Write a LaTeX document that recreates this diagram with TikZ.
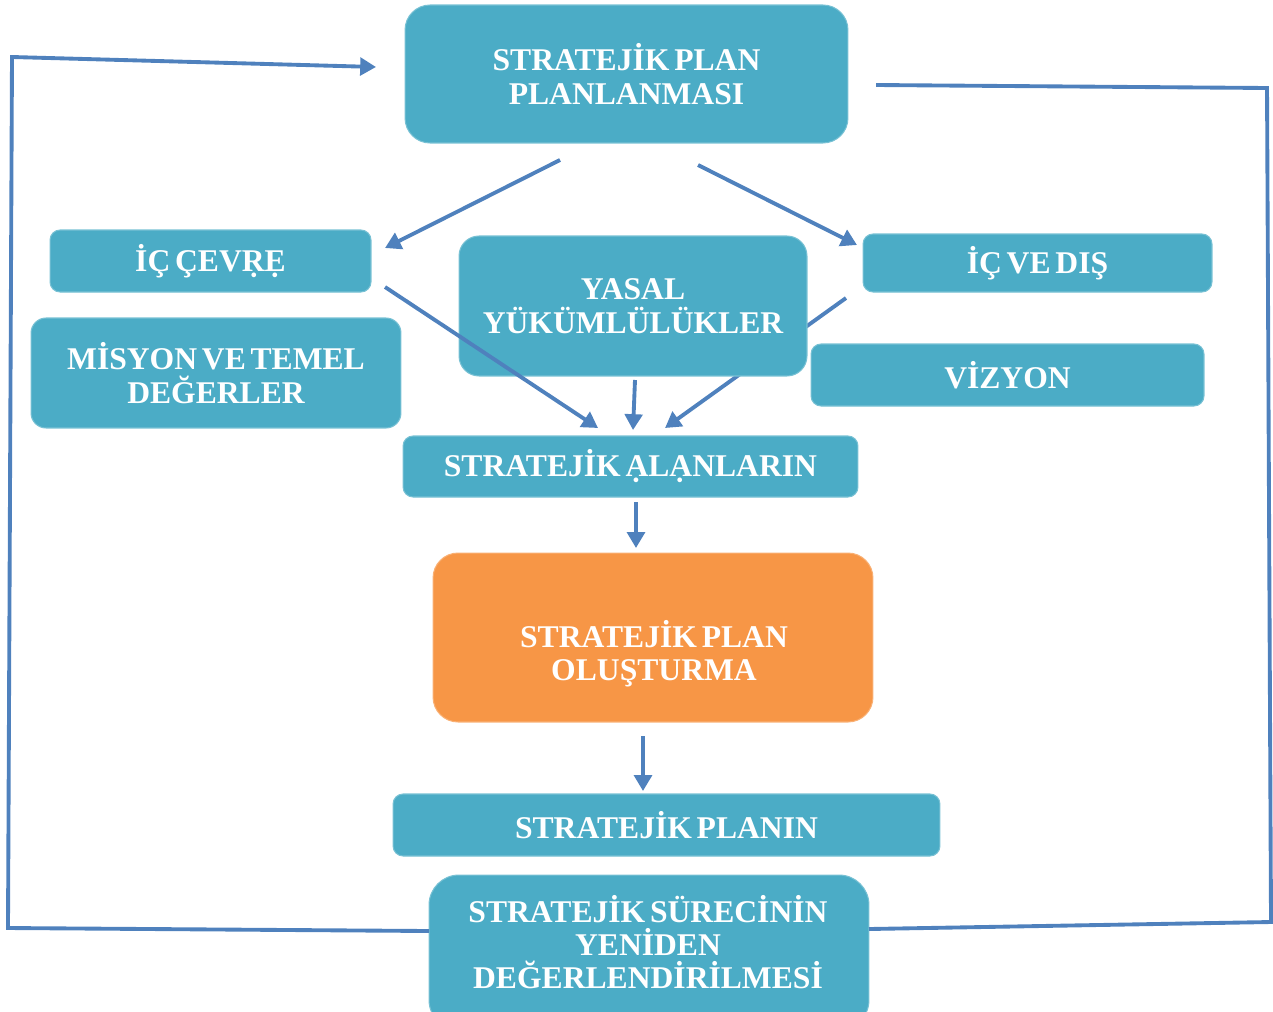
\documentclass[tikz,border=0pt]{standalone}
\usepackage{fontspec}
\setmainfont[WordSpace=0.6]{Liberation Serif}
\usetikzlibrary{arrows.meta}
\definecolor{kutumavi}{HTML}{4BACC6}
\definecolor{turuncu}{HTML}{F79646}
\definecolor{okmavi}{HTML}{4F81BD}
\begin{document}
\begin{tikzpicture}[x=0.02cm,y=-0.02cm,
    kutu/.style={fill=kutumavi,draw=kutumavi!75!white,line width=0.6pt,rounded corners=0.2cm,
      text=white,font=\fontsize{18}{19}\selectfont\bfseries,align=center,inner sep=0pt},
    yazi/.style={text=white,font=\fontsize{18}{19}\selectfont\bfseries,align=center,inner sep=0pt},
    okcizgi/.style={draw=okmavi,line width=2.2pt,-{Triangle[length=9pt,width=10pt]}},
    cizgi/.style={draw=okmavi,line width=2.2pt}]
  \useasboundingbox (0,0) rectangle (1273,1011);
  % uc noktalar
  \coordinate (d1) at (846,298);
  \coordinate (d2) at (665,428);
  \draw[okcizgi] (d1) -- (d2);
  % kutular
  \node[kutu,rounded corners=0.5cm,minimum width=8.86cm,minimum height=2.76cm] (plan) at (626.5,74) {STRATEJİK PLAN\\PLANLANMASI};
  \node[kutu,minimum width=6.42cm,minimum height=1.24cm] (ic) at (210.5,261) {İÇ ÇEV\d{R}\d{E}};
  \node[kutu,rounded corners=0.4cm,minimum width=6.96cm,minimum height=2.8cm] (yasal) at (633,306) {YASAL\\YÜKÜMLÜLÜKLER};
  \node[kutu,minimum width=6.98cm,minimum height=1.16cm] (icdis) at (1037.5,263) {İÇ VE DIŞ};
  \node[kutu,rounded corners=0.3cm,minimum width=7.4cm,minimum height=2.2cm] (misyon) at (216,373) {MİSYON VE TEMEL\\DEĞERLER};
  \node[kutu,minimum width=7.86cm,minimum height=1.24cm] (vizyon) at (1007.5,375) {VİZYON};
  \node[kutu,minimum width=9.1cm,minimum height=1.22cm] (alan) at (630.5,466.5) {STRATEJİK \d{A}L\d{A}NLARIN};
  \node[kutu,fill=turuncu,draw=turuncu!75!white,rounded corners=0.5cm,minimum width=8.8cm,minimum height=3.38cm] (olus) at (653,637.5) {};
  \node[yazi] (olusyazi) at (654,654) {STRATEJİK PLAN\\OLUŞTURMA};
  \node[kutu,minimum width=10.94cm,minimum height=1.24cm] (planin) at (666.5,825) {STRATEJİK PLANIN};
  \node[kutu,rounded corners=0.6cm,minimum width=8.8cm,minimum height=3.1cm] (surec) at (649,952.5) {};
  \node[yazi] (surecyazi) at (648,942) {STRATEJİK SÜRECİNİN\\YENİDEN\\DEĞERLENDİRİLMESİ};
  % oklar
  \coordinate (a1) at (560,160);  \coordinate (a2) at (385,248);
  \coordinate (b1) at (698,165);  \coordinate (b2) at (857,245);
  \coordinate (c1) at (385,287);  \coordinate (c2) at (598,428);
  \coordinate (e1) at (635,380);  \coordinate (e2) at (633,430);
  \coordinate (f1) at (636,502);  \coordinate (f2) at (636,548);
  \coordinate (g1) at (643,736);  \coordinate (g2) at (643,791);
  \draw[okcizgi] (a1) -- (a2);
  \draw[okcizgi] (b1) -- (b2);
  \draw[okcizgi] (c1) -- (c2);
  \draw[okcizgi] (e1) -- (e2);
  \draw[okcizgi] (f1) -- (f2);
  \draw[okcizgi] (g1) -- (g2);
  % geri besleme
  \coordinate (s1) at (429,931);  \coordinate (s2) at (376,67);
  \coordinate (t1) at (876,85);   \coordinate (t2) at (869,929);
  \draw[okcizgi] (s1) -- (8,928) -- (12,57) -- (s2);
  \draw[cizgi] (t1) -- (1267,88) -- (1271,922) -- (t2);
\end{tikzpicture}
\end{document}
